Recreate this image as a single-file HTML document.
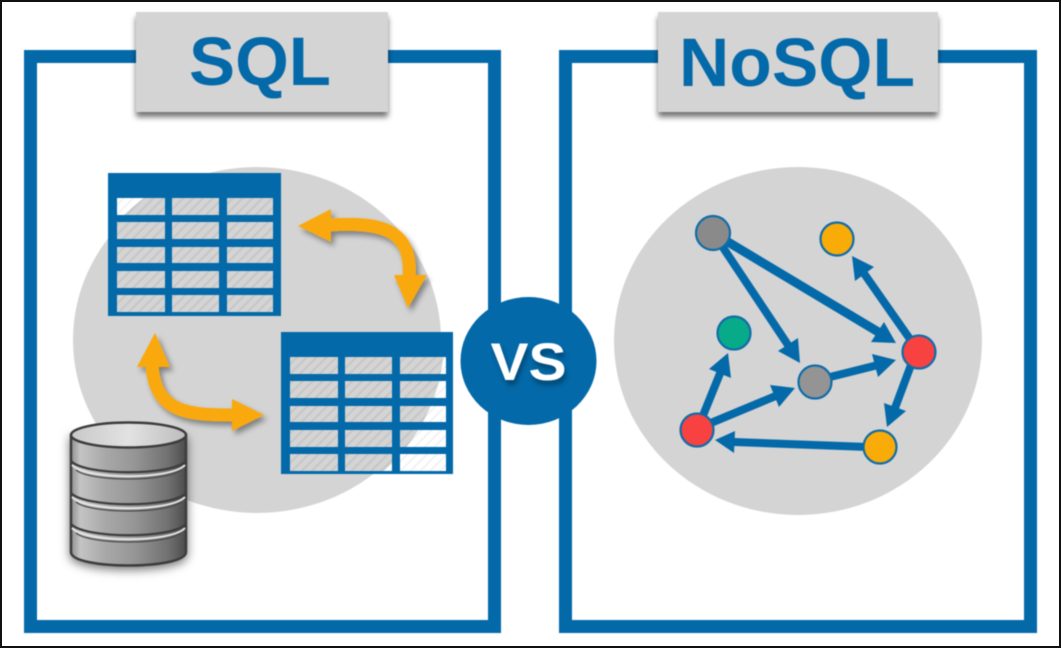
<!DOCTYPE html>
<html>
<head>
<meta charset="utf-8">
<style>
html,body{margin:0;padding:0;background:#fff;width:1061px;height:648px;overflow:hidden}
svg{display:block;filter:blur(.45px)}
text{font-family:"Liberation Sans",Arial,sans-serif;font-weight:bold}
#edge{position:absolute;left:0;top:0;width:1057px;height:644px;border:2px solid #111}
</style>
</head>
<body>
<svg width="1061" height="648" viewBox="0 0 1061 648" xmlns="http://www.w3.org/2000/svg">
<defs>
<pattern id="h" width="7" height="7" patternUnits="userSpaceOnUse" patternTransform="rotate(45)">
<rect width="7" height="7" fill="#d4d4d4"/><rect width="2" height="7" fill="#c6c6c6"/>
</pattern>
<pattern id="hw" width="7" height="7" patternUnits="userSpaceOnUse" patternTransform="rotate(45)">
<rect width="7" height="7" fill="#fff"/><rect width="1.5" height="7" fill="#efefef"/>
</pattern>
<clipPath id="cc"><ellipse cx="257" cy="340" rx="187" ry="178"/></clipPath>
<filter id="s1" x="-20%" y="-20%" width="140%" height="140%"><feDropShadow dx="0" dy="5" stdDeviation="3" flood-color="#000" flood-opacity=".55"/></filter>
<filter id="s2" x="-20%" y="-20%" width="140%" height="140%"><feDropShadow dx="3" dy="4" stdDeviation="3" flood-color="#000" flood-opacity=".4"/></filter>
<filter id="s3" x="-30%" y="-30%" width="160%" height="160%"><feDropShadow dx="2" dy="5" stdDeviation="2.500" flood-color="#003a60" flood-opacity=".7"/></filter>
<filter id="s4" x="-20%" y="-20%" width="140%" height="140%"><feDropShadow dx="0" dy="3" stdDeviation="5" flood-color="#000" flood-opacity=".55"/></filter>
<linearGradient id="cy" x1="0" x2="1" y1="0" y2="0">
<stop offset="0" stop-color="#8f8f8f"/><stop offset=".08" stop-color="#c4c4c4"/><stop offset=".3" stop-color="#a8a8a8"/><stop offset=".55" stop-color="#969696"/><stop offset=".85" stop-color="#707070"/><stop offset="1" stop-color="#4c4c4c"/>
</linearGradient>
<linearGradient id="cyt" x1="0" x2="1" y1="0" y2="0">
<stop offset="0" stop-color="#c8c8c8"/><stop offset=".5" stop-color="#e2e2e2"/><stop offset="1" stop-color="#bdbdbd"/>
</linearGradient>
<g id="cells">
<rect x="9" y="25" width="48" height="17"/><rect x="64" y="25" width="47" height="17"/><rect x="119" y="25" width="46" height="17"/>
<rect x="9" y="49" width="48" height="17"/><rect x="64" y="49" width="47" height="17"/><rect x="119" y="49" width="46" height="17"/>
<rect x="9" y="74" width="48" height="16"/><rect x="64" y="74" width="47" height="16"/><rect x="119" y="74" width="46" height="16"/>
<rect x="9" y="98" width="48" height="17"/><rect x="64" y="98" width="47" height="17"/><rect x="119" y="98" width="46" height="17"/>
<rect x="9" y="122" width="48" height="17"/><rect x="64" y="122" width="47" height="17"/><rect x="119" y="122" width="46" height="17"/>
</g>
</defs>

<rect width="1061" height="648" fill="#fff"/>

<!-- frames -->
<rect x="30.500" y="56.500" width="464" height="570" fill="none" stroke="#0369a9" stroke-width="13"/>
<rect x="565.500" y="56.500" width="465" height="570" fill="none" stroke="#0369a9" stroke-width="13"/>

<!-- big circles -->
<ellipse cx="257" cy="340" rx="184" ry="173" fill="#d4d4d4"/>
<ellipse cx="798" cy="341" rx="184" ry="174" fill="#d4d4d4"/>

<!-- label boxes -->
<rect x="136" y="12" width="252" height="100" fill="#d4d4d4" filter="url(#s1)"/>
<rect x="658" y="12" width="280" height="100" fill="#d4d4d4" filter="url(#s1)"/>
<text x="260" y="85" font-size="69" fill="#0369a9" text-anchor="middle" textLength="142" lengthAdjust="spacingAndGlyphs">SQL</text>
<text x="797" y="86" font-size="69" fill="#0369a9" text-anchor="middle" textLength="236" lengthAdjust="spacingAndGlyphs">NoSQL</text>

<!-- table 1 -->
<rect x="108" y="173" width="173" height="143" fill="#0369a9"/>
<g transform="translate(108,173)" fill="url(#hw)"><use href="#cells"/></g>
<g clip-path="url(#cc)"><g transform="translate(108,173)" fill="url(#h)"><use href="#cells"/></g></g>

<!-- table 2 -->
<rect x="281" y="332" width="172" height="142" fill="#0369a9"/>
<g transform="translate(281,332)" fill="url(#hw)"><use href="#cells"/></g>
<g clip-path="url(#cc)"><g transform="translate(281,332)" fill="url(#h)"><use href="#cells"/></g></g>

<!-- orange arrows -->
<g filter="url(#s2)">
<path d="M328 225 C380 222 413 228 409 278" fill="none" stroke="#f9a90a" stroke-width="13"/>
<polygon points="298,226 331,209 331,242" fill="#f9a90a"/>
<polygon points="408,308 394,275 427,275" fill="#f9a90a"/>
</g>
<g filter="url(#s2)">
<path d="M152 365 C155 414 190 415 235 415" fill="none" stroke="#f9a90a" stroke-width="13"/>
<polygon points="155,333 137,367 170,367" fill="#f9a90a"/>
<polygon points="264,415 232,399 232,431" fill="#f9a90a"/>
</g>

<!-- database -->
<path d="M71 435 V552 C71 570 186 570 186 552 V435 Z" fill="url(#cy)" stroke="#3c3c3c" stroke-width="2.500" filter="url(#s4)"/>
<ellipse cx="128.500" cy="435" rx="57.500" ry="12.500" fill="url(#cyt)" stroke="#3c3c3c" stroke-width="2.500"/>
<g fill="none" stroke="#e6e6e6" stroke-width="2">
<path d="M72 465 C86 480 171 480 185 465"/>
<path d="M72 497 C86 512 171 512 185 497"/>
<path d="M72 528 C86 543 171 543 185 528"/>
</g>
<g fill="none" stroke="#3c3c3c" stroke-width="2.200">
<path d="M71 461 C85 476 172 476 186 461"/>
<path d="M71 493 C85 508 172 508 186 493"/>
<path d="M71 524 C85 539 172 539 186 524"/>
</g>
<g fill="none" stroke="#4a4a4a" stroke-width="1.200">
<path d="M76 470 C90 482 167 482 181 470"/>
<path d="M76 502 C90 514 167 514 181 502"/>
<path d="M76 533 C90 545 167 545 181 533"/>
</g>

<!-- graph arrows -->
<g stroke="#0369a9" fill="none" stroke-linecap="butt">
<line x1="713" y1="233" x2="880" y2="333" stroke-width="9"/>
<line x1="720" y1="243" x2="790" y2="348" stroke-width="8"/>
<line x1="912" y1="342" x2="863" y2="272" stroke-width="8"/>
<line x1="826" y1="378" x2="878" y2="365" stroke-width="8"/>
<line x1="911" y1="365" x2="895" y2="408" stroke-width="8"/>
<line x1="868" y1="447" x2="734" y2="442" stroke-width="8"/>
<line x1="706" y1="425" x2="778" y2="395" stroke-width="8"/>
<line x1="702" y1="418" x2="721" y2="371" stroke-width="8"/>
</g>
<g fill="#0369a9">
<polygon points="896,343 871,342 884,322"/>
<polygon points="800,363 778,351 798,338"/>
<polygon points="852,256 874,267 855,281"/>
<polygon points="896,360 878,377 872,354"/>
<polygon points="887,427 884,403 906,411"/>
<polygon points="715,440 735,431 734,453"/>
<polygon points="795,388 779,407 770,385"/>
<polygon points="728,353 731,378 709,369"/>
</g>

<!-- graph nodes -->
<g stroke="#0f6ca8" stroke-width="2.200">
<circle cx="713" cy="233" r="17" fill="#8a8a8a"/>
<circle cx="837" cy="239" r="16.500" fill="#f9ab07"/>
<circle cx="734" cy="333" r="16.500" fill="#07ab8a"/>
<circle cx="815" cy="382" r="16.500" fill="#949494"/>
<circle cx="919" cy="352" r="16.500" fill="#f84242"/>
<circle cx="697" cy="430" r="16.500" fill="#f84242"/>
<circle cx="880" cy="447" r="16.500" fill="#f9ab07"/>
</g>

<!-- VS -->
<ellipse cx="528.500" cy="361" rx="68" ry="64" fill="#0369a9"/>
<text x="528.500" y="380" font-size="53" fill="#fff" text-anchor="middle" textLength="76" lengthAdjust="spacingAndGlyphs" filter="url(#s3)">VS</text>
</svg>
<div id="edge"></div>
</body>
</html>
